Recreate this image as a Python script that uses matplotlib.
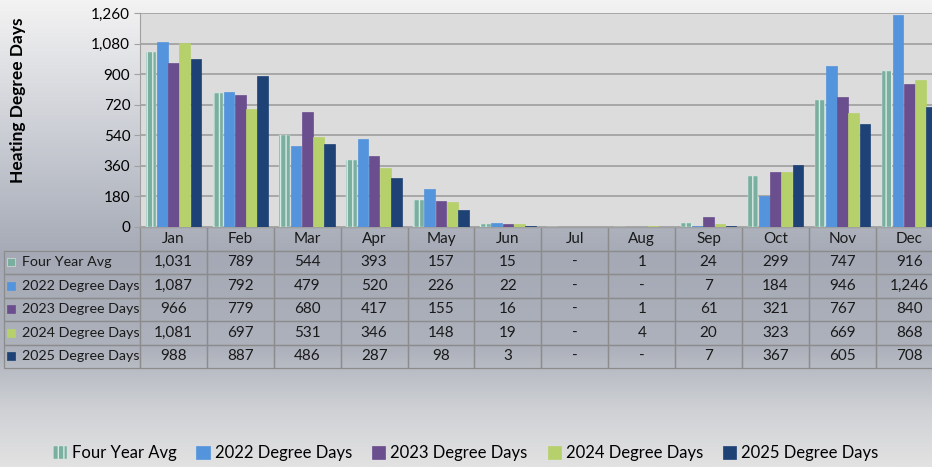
import numpy as np
import matplotlib
matplotlib.use("Agg")
import matplotlib.pyplot as plt
from matplotlib.colors import LinearSegmentedColormap

plt.rcParams['font.family'] = ['Lato', 'DejaVu Sans']

months = ["Jan", "Feb", "Mar", "Apr", "May", "Jun", "Jul", "Aug", "Sep", "Oct", "Nov", "Dec"]
series_names = ["Four Year Avg", "2022 Degree Days", "2023 Degree Days",
                "2024 Degree Days", "2025 Degree Days"]
avg = [1031, 789, 544, 393, 157, 15, 0, 1, 24, 299, 747, 916]
d2022 = [1087, 792, 479, 520, 226, 22, 0, 0, 7, 184, 946, 1246]
d2023 = [966, 779, 680, 417, 155, 16, 0, 1, 61, 321, 767, 840]
d2024 = [1081, 697, 531, 346, 148, 19, 0, 4, 20, 323, 669, 868]
d2025 = [988, 887, 486, 287, 98, 3, 0, 0, 7, 367, 605, 708]
yticks = [0, 180, 360, 540, 720, 900, 1080, 1260]

series = [avg, d2022, d2023, d2024, d2025]
colors = ["#7aae9f", "#5494dc", "#6b4e8e", "#b6d06c", "#1e4275"]

W, H = 932, 467
fig = plt.figure(figsize=(W / 100, H / 100), dpi=100)

# background gradient
bg = fig.add_axes([0, 0, 1, 1], zorder=-10)
cmap = LinearSegmentedColormap.from_list("bg", [
    (0.0, "#f3f3f3"), (0.30, "#c9ccd3"), (0.55, "#a4a9b5"),
    (0.75, "#aeb2bc"), (0.88, "#cfd1d5"), (1.0, "#e2e2e2")])
bg.imshow(np.linspace(0, 1, 256).reshape(-1, 1), aspect="auto", cmap=cmap,
          extent=[0, 1, 0, 1])
bg.axis("off")

left_px, top_px, bot_px, colw = 140, 13, 227, 66.9
ax = fig.add_axes([left_px / W, 1 - bot_px / H, 12 * colw / W, (bot_px - top_px) / H])
ax.set_facecolor("#dcdcdc")

x = np.arange(12)
bw = 0.168
for i, (vals, c, name) in enumerate(zip(series, colors, series_names)):
    off = (i - 2) * bw
    if i == 0:
        ax.bar(x + off, vals, bw * 0.95, color=c, edgecolor="#d6ebe4", hatch="|||",
               linewidth=0.3, label=name, zorder=3)
    else:
        ax.bar(x + off, vals, bw * 0.95, color=c, edgecolor=c, linewidth=0.5,
               label=name, zorder=3)

ax.set_xlim(-0.5, 11.5)
ax.set_ylim(0, 1260)
ax.set_yticks(yticks)
ax.set_yticklabels([f"{v:,}" for v in yticks], fontsize=11)
ax.set_xticks([])
ax.grid(axis="y", color="#a3a3a3", linewidth=1.3, zorder=0)
for s in ["top", "right"]:
    ax.spines[s].set_visible(False)
ax.spines["left"].set_color("#a0a0a0")
ax.spines["bottom"].set_color("#a0a0a0")
ax.tick_params(axis="y", length=4, color="#a0a0a0", pad=3)
ax.set_ylabel("Heating Degree Days", fontsize=12.5, fontweight="bold")
ax.yaxis.set_label_coords((26 - left_px) / (12 * colw), (bot_px - 100) / (bot_px - top_px))

# data table
def fmt(v):
    return "-" if v == 0 else f"{v:,}"

cell_text = [[fmt(v) for v in s] for s in series]
ah = bot_px - top_px
tbl_bottom = -(368 - bot_px) / ah
label_w = (left_px - 4) / (12 * colw)
tbl = ax.table(cellText=cell_text, rowLabels=series_names, colLabels=months,
               colWidths=[1 / 12] * 12, cellLoc="center", rowLoc="left",
               bbox=[0, tbl_bottom, 1, -tbl_bottom])
tbl._autoColumns = []  # keep fixed width for the label column
tbl.auto_set_font_size(False)
for (r, c), cell in tbl.get_celld().items():
    cell.set_facecolor("none")
    cell.set_edgecolor("#8c8c8c")
    cell.set_linewidth(0.9)
    cell.get_text().set_fontsize(11)
    cell.get_text().set_color("#1a1a1a")
    if c == -1:
        cell.set_width(label_w)
        cell.PAD = 0.13
        cell.get_text().set_fontsize(10.3)

# legend keys in the table
row_h = (-tbl_bottom) / 6
for i, c in enumerate(colors):
    yc = tbl_bottom + (4.5 - i) * row_h
    ax.plot([(11 - left_px) / (12 * colw)], [yc], marker="s", markersize=6,
            color=c, markeredgecolor="#dddddd" if i == 0 else c, markeredgewidth=0.5,
            transform=ax.transAxes, clip_on=False)

handles, labels = ax.get_legend_handles_labels()
fig.legend(handles, labels, loc="center", bbox_to_anchor=(0.5, 1 - 453 / H), ncol=5,
           frameon=False, fontsize=12, handlelength=0.8, handleheight=0.8,
           handletextpad=0.3, columnspacing=1.2)

fig.savefig("out.png", dpi=100)
